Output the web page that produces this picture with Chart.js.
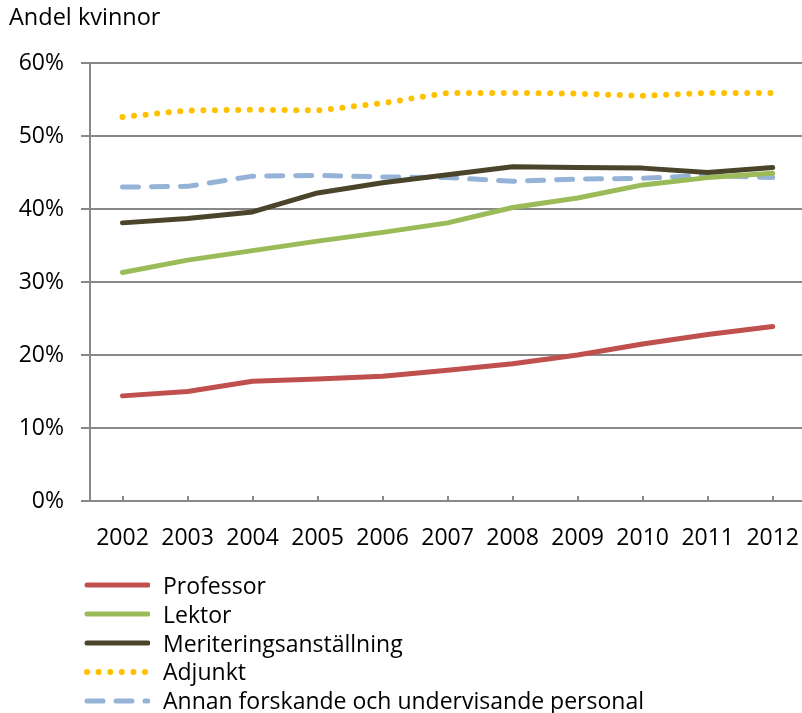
<!DOCTYPE html>
<html>
<head>
<meta charset="utf-8">
<script src="https://cdn.jsdelivr.net/npm/chart.js@4/dist/chart.umd.min.js"></script>
<style>
  html, body { margin: 0; padding: 0; background: #fff; overflow: hidden; }
  body { width: 802px; height: 713px; position: relative; font-family: "Open Sans", sans-serif; }
  #chart { position: absolute; left: 0; top: 0; }
  #title { position: absolute; left: 9px; top: 0px; font-size: 23.5px; color: #000; }
  #legend { position: absolute; left: 80px; top: 571px; font-size: 23px; color: #000; }
  #legend div { height: 28.8px; line-height: 28.8px; display: flex; align-items: center; }
  #legend svg { margin-right: 13px; }
</style>
</head>
<body>
<canvas id="chart" width="815" height="713"></canvas>
<div id="title">Andel kvinnor</div>
<div id="legend"></div>
<script>
// Years on the x axis
const years = ['2002', '2003', '2004', '2005', '2006', '2007', '2008', '2009', '2010', '2011', '2012'];

// Share of women (%) per staff category
const professor = [14.4, 15.0, 16.4, 16.7, 17.1, 17.9, 18.8, 20.0, 21.5, 22.8, 23.9];
const lektor = [31.3, 33.0, 34.3, 35.6, 36.8, 38.1, 40.2, 41.5, 43.3, 44.3, 44.9];
const meritering = [38.1, 38.7, 39.6, 42.2, 43.6, 44.7, 45.8, 45.7, 45.6, 45.0, 45.7];
const adjunkt = [52.6, 53.5, 53.6, 53.5, 54.5, 55.9, 55.9, 55.8, 55.5, 55.9, 55.9];
const annan = [43.0, 43.1, 44.5, 44.6, 44.4, 44.3, 43.8, 44.1, 44.2, 44.6, 44.3];

// Y axis ticks
const yTicks = [0, 10, 20, 30, 40, 50, 60];

const series = [
    { label: 'Professor', data: professor, color: '#C0504D', dash: [], width: 5 },
    { label: 'Lektor', data: lektor, color: '#9BBB59', dash: [], width: 5 },
    { label: 'Meriteringsanställning', data: meritering, color: '#4A452A', dash: [], width: 5 },
    { label: 'Adjunkt', data: adjunkt, color: '#FFC000', dash: [0, 11.6], width: 6 },
    { label: 'Annan forskande och undervisande personal', data: annan, color: '#95B3D7', dash: [16, 13], width: 5 }
];

const datasets = series.map(function (s) {
    return {
        label: s.label,
        data: s.data,
        borderColor: s.color,
        borderWidth: s.width,
        borderDash: s.dash,
        borderCapStyle: 'round',
        borderJoinStyle: 'round',
        pointRadius: 0,
        tension: 0,
        fill: false
    };
});

// small upward tick marks on the x axis at each year
const xTickMarks = {
    id: 'xTickMarks',
    afterDatasetsDraw: function (chart) {
        const ctx = chart.ctx;
        const x = chart.scales.x;
        const y0 = chart.chartArea.bottom;
        ctx.save();
        ctx.strokeStyle = '#888888';
        ctx.lineWidth = 2;
        years.forEach(function (yr, i) {
            const px = Math.round(x.getPixelForValue(i));
            ctx.beginPath();
            ctx.moveTo(px, y0);
            ctx.lineTo(px, y0 - 5);
            ctx.stroke();
        });
        ctx.restore();
    }
};

const ctx = document.getElementById('chart').getContext('2d');
const chart = new Chart(ctx, {
    type: 'line',
    data: { labels: years, datasets: datasets },
    options: {
        responsive: false,
        maintainAspectRatio: false,
        animation: false,
        layout: { padding: { top: 63, left: 0, right: 0, bottom: 0 } },
        plugins: {
            legend: { display: false },
            tooltip: { enabled: false },
            title: { display: false }
        },
        scales: {
            x: {
                offset: true,
                grid: { display: false },
                border: { display: true, color: '#888888', width: 2 },
                ticks: {
                    color: '#000',
                    font: { family: 'Open Sans', size: 23 },
                    padding: 16,
                    maxRotation: 0,
                    autoSkip: false
                },
                afterFit: function (scale) { scale.height = 212; }
            },
            y: {
                min: 0,
                max: 60,
                afterBuildTicks: function (scale) {
                    scale.ticks = yTicks.map(function (v) { return { value: v }; });
                },
                grid: { color: '#888888', lineWidth: 2, tickLength: 9 },
                border: { display: true, color: '#888888', width: 2 },
                ticks: {
                    color: '#000',
                    font: { family: 'Open Sans', size: 23 },
                    padding: 17,
                    callback: function (v) { return v + '%'; }
                },
                afterFit: function (scale) { scale.width = 90; }
            }
        }
    },
    plugins: [xTickMarks]
});

// HTML legend with line samples
const legendEl = document.getElementById('legend');
series.forEach(function (s) {
    const row = document.createElement('div');
    const dashAttr = s.dash.length ? ' stroke-dasharray="' + s.dash.join(' ') + '"' : '';
    row.innerHTML = '<svg width="70" height="12"><line x1="7" y1="6" x2="68" y2="6" stroke="' + s.color +
        '" stroke-width="' + s.width + '" stroke-linecap="round"' + dashAttr + '/></svg><span>' + s.label + '</span>';
    legendEl.appendChild(row);
});
</script>
</body>
</html>
